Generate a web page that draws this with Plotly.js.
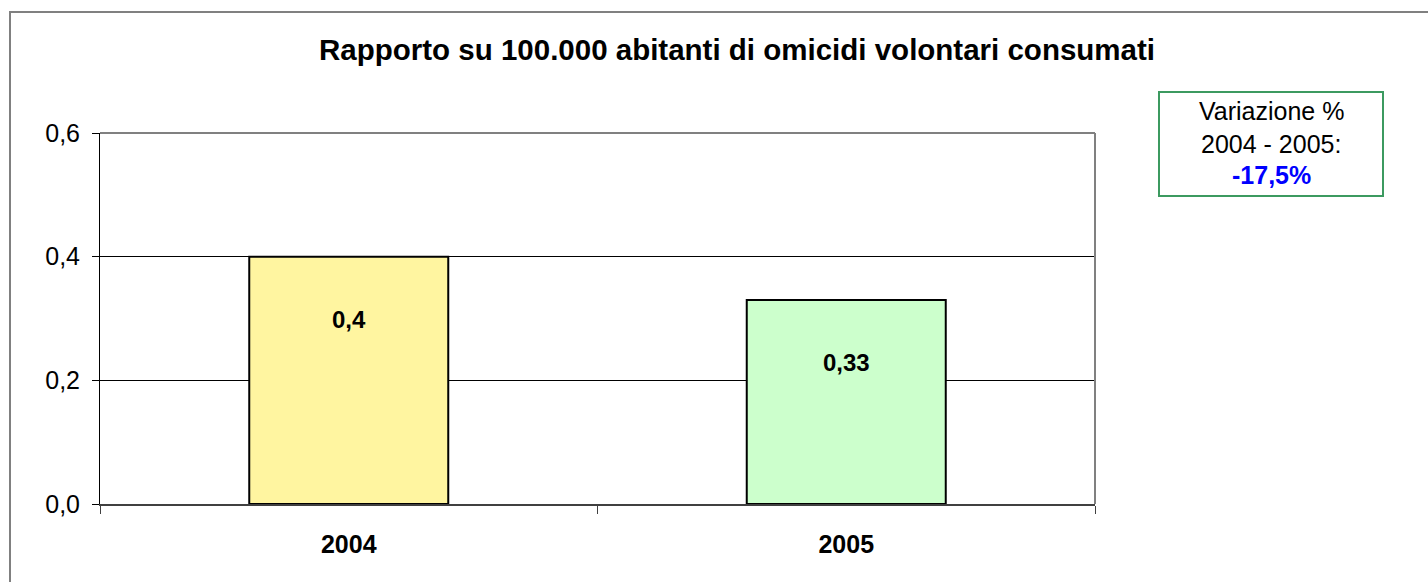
<!DOCTYPE html>
<html>
<head>
<meta charset="utf-8">
<script src="https://cdn.plot.ly/plotly-3.0.1.min.js"></script>
<style>html,body{margin:0;padding:0;background:#fff;}#chart{width:1428px;height:582px;}</style>
</head>
<body>
<div id="chart"></div>
<script>
const categories = ["2004", "2005"];
const values = [0.4, 0.33];
const valueLabels = ["0,4", "0,33"];
const barColors = ["#FFF5A0", "#CCFFCC"];
const yTickVals = [0, 0.2, 0.4, 0.6];
const boxLines = ["Variazione %", "2004 - 2005:", "-17,5%"];
const titleText = "Rapporto su 100.000 abitanti di omicidi volontari consumati";

const W = 1428, H = 582;
const L = 100, R = 1095, T = 133, B = 504;
const px = x => (x - L) / (R - L);
const py = y => (B - y) / (B - T);

const font = "Liberation Sans, Arial, sans-serif";

const trace = {
  type: "bar",
  x: categories,
  y: values,
  width: 0.4,
  marker: {color: barColors, line: {color: "#000", width: 2}},
  hoverinfo: "none"
};

const annotations = categories.map((c, i) => ({
  x: (i + 0.5) / categories.length, y: values[i], xref: "paper", yref: "y",
  xanchor: "center", yanchor: "middle",
  text: "<b>" + valueLabels[i] + "</b>",
  showarrow: false, yshift: -63,
  font: {family: font, size: 24, color: "#000"}
}));

const boxYs = [111, 144, 175];
boxLines.forEach((t, i) => {
  annotations.push({
    x: px(1271), y: py(boxYs[i]), xref: "paper", yref: "paper",
    text: i === 2 ? "<b>" + t + "</b>" : t,
    showarrow: false, xanchor: "center", yanchor: "middle",
    font: {family: font, size: 25, color: i === 2 ? "#0000FF" : "#000"}
  });
});

const shapes = [
  {type: "rect", xref: "paper", yref: "paper", x0: px(10), x1: px(1500), y0: py(12), y1: py(700),
   line: {color: "#808080", width: 2}, fillcolor: "rgba(0,0,0,0)", layer: "below"},
  {type: "line", xref: "paper", yref: "paper", x0: 0, x1: 1, y0: 1, y1: 1, line: {color: "#808080", width: 2}},
  {type: "line", xref: "paper", yref: "paper", x0: 1, x1: 1, y0: 0, y1: 1, line: {color: "#808080", width: 2}},
  {type: "rect", xref: "paper", yref: "paper", x0: px(1159), x1: px(1383), y0: py(92), y1: py(196),
   line: {color: "#3C9A60", width: 2}, fillcolor: "rgba(0,0,0,0)"}
];

const layout = {
  width: W, height: H,
  margin: {l: L, r: W - R, t: T, b: H - B, pad: 0},
  paper_bgcolor: "#fff", plot_bgcolor: "#fff",
  showlegend: false,
  separators: ",.",
  title: {text: "<b>" + titleText + "</b>", x: 737 / W, xref: "container", xanchor: "center",
          y: 1 - 50 / H, yref: "container", yanchor: "middle",
          font: {family: font, size: 29.5, color: "#000"}},
  xaxis: {
    type: "category", tickson: "boundaries", ticks: "outside", ticklen: 8, tickcolor: "#404040", tickwidth: 1,
    showline: true, linecolor: "#404040", linewidth: 2, showgrid: false, zeroline: false,
    tickfont: {family: font, size: 25, color: "#000", weight: "bold"},
    ticklabelstandoff: 17, fixedrange: true, tickangle: 0
  },
  yaxis: {
    range: [0, 0.6], tickvals: yTickVals, tickformat: ".1f", ticks: "outside", ticklen: 7, tickcolor: "#000",
    showline: true, linecolor: "#000", linewidth: 1, showgrid: true, gridcolor: "#000", gridwidth: 1,
    zeroline: false, tickfont: {family: font, size: 25, color: "#000"}, ticklabelstandoff: 7, fixedrange: true
  },
  shapes: shapes,
  annotations: annotations,
  bargap: 0.6
};

Plotly.newPlot("chart", [trace], layout, {displayModeBar: false, staticPlot: true});
</script>
</body>
</html>
